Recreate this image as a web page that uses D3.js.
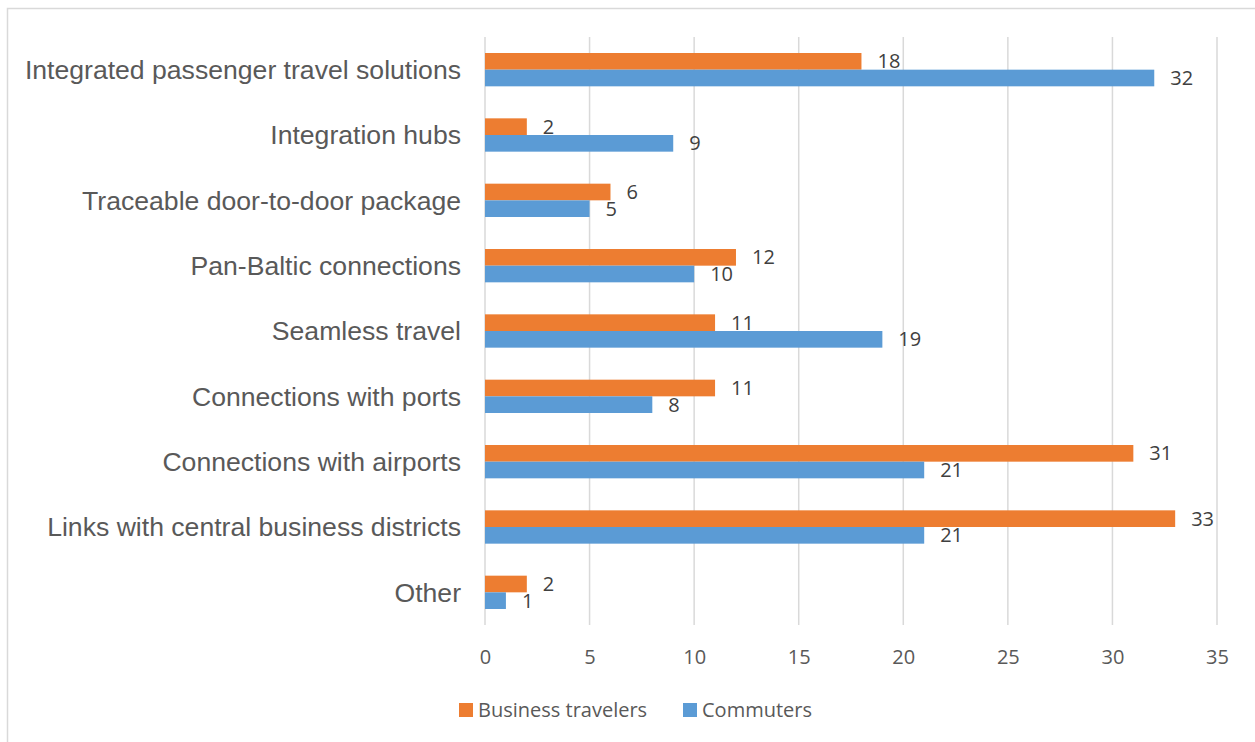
<!DOCTYPE html>
<html>
<head>
<meta charset="utf-8">
<script src="https://cdn.jsdelivr.net/npm/d3@7"></script>
<style>
  html, body { margin: 0; padding: 0; background: #ffffff; }
  svg { display: block; }
</style>
</head>
<body>
<svg id="chart" width="1255" height="742"></svg>
<script>
const categories = [
  "Integrated passenger travel solutions",
  "Integration hubs",
  "Traceable door-to-door package",
  "Pan-Baltic connections",
  "Seamless travel",
  "Connections with ports",
  "Connections with airports",
  "Links with central business districts",
  "Other"
];
const businessTravelers = [18, 2, 6, 12, 11, 11, 31, 33, 2];
const commuters = [32, 9, 5, 10, 19, 8, 21, 21, 1];
const seriesNames = ["Business travelers", "Commuters"];
const seriesColors = ["#ED7D31", "#5B9BD5"];
const tickValues = [0, 5, 10, 15, 20, 25, 30, 35];

const svg = d3.select("#chart");
const W = 1255, H = 742;

// chart border
svg.append("rect")
  .attr("x", 7.5).attr("y", 8.5)
  .attr("width", W + 10).attr("height", H + 10)
  .attr("fill", "none").attr("stroke", "#d9d9d9").attr("stroke-width", 1.5);

const plot = { left: 485, right: 1217, top: 37, bottom: 625 };

const x = d3.scaleLinear().domain([0, 35]).range([plot.left, plot.right]);
const y = d3.scaleBand().domain(categories).range([plot.top, plot.bottom])
  .paddingInner(0.49).paddingOuter(0.245);
const ySub = d3.scaleBand().domain(seriesNames).range([0, y.bandwidth()]);

// gridlines
svg.append("g").selectAll("line").data(tickValues).join("line")
  .attr("x1", d => x(d)).attr("x2", d => x(d))
  .attr("y1", plot.top).attr("y2", plot.bottom)
  .attr("stroke", "#d9d9d9").attr("stroke-width", 1.5);

// x axis tick labels
const xAxis = d3.axisBottom(x).tickValues(tickValues).tickSize(0).tickPadding(0);
const gx = svg.append("g").attr("transform", `translate(0, ${plot.bottom})`).call(xAxis);
gx.select(".domain").remove();
gx.selectAll("text")
  .attr("y", 32).attr("dy", "0.35em")
  .attr("fill", "#595959")
  .style("font-family", "'Open Sans', sans-serif")
  .style("font-size", "20px");

// y axis category labels
const yAxis = d3.axisLeft(y).tickSize(0).tickPadding(0);
const gy = svg.append("g").attr("transform", `translate(${plot.left - 24}, 0)`).call(yAxis);
gy.select(".domain").remove();
gy.selectAll("text")
  .attr("x", 0).attr("dy", "0.35em")
  .attr("fill", "#595959")
  .style("font-family", "'Liberation Sans', Arial, sans-serif")
  .style("font-size", "26.6px");

// bars
const rows = categories.map((c, i) => ({
  cat: c,
  vals: [
    { name: seriesNames[0], v: businessTravelers[i], color: seriesColors[0] },
    { name: seriesNames[1], v: commuters[i], color: seriesColors[1] }
  ]
}));

const groups = svg.append("g").selectAll("g").data(rows).join("g")
  .attr("transform", d => `translate(0, ${y(d.cat)})`);

groups.selectAll("rect").data(d => d.vals).join("rect")
  .attr("x", x(0))
  .attr("y", d => ySub(d.name))
  .attr("width", d => x(d.v) - x(0))
  .attr("height", ySub.bandwidth())
  .attr("fill", d => d.color);

groups.selectAll("text").data(d => d.vals).join("text")
  .attr("x", d => x(d.v) + 16)
  .attr("y", d => ySub(d.name) + ySub.bandwidth() / 2)
  .attr("dy", "0.35em")
  .attr("fill", "#404040")
  .style("font-family", "'Open Sans', sans-serif")
  .style("font-size", "20px")
  .text(d => d.v);

// legend
const legendItems = [
  { name: seriesNames[0], color: seriesColors[0], x: 459 },
  { name: seriesNames[1], color: seriesColors[1], x: 683 }
];
const lg = svg.append("g").selectAll("g").data(legendItems).join("g")
  .attr("transform", d => `translate(${d.x}, 703)`);
lg.append("rect").attr("width", 14).attr("height", 14).attr("fill", d => d.color);
lg.append("text")
  .attr("x", 19).attr("y", 7).attr("dy", "0.35em")
  .attr("fill", "#595959")
  .style("font-family", "'Open Sans', sans-serif")
  .style("font-size", "20px")
  .text(d => d.name);
</script>
</body>
</html>
